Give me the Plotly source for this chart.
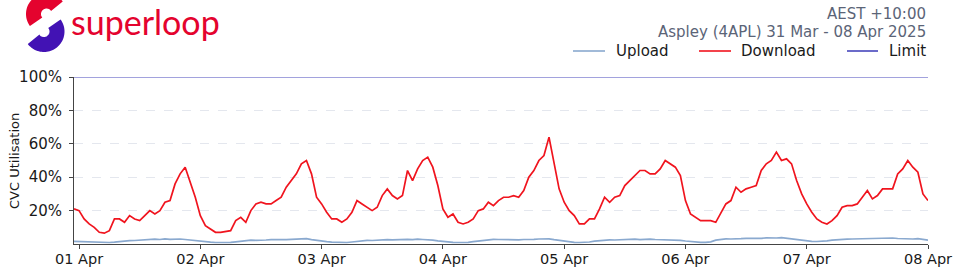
import numpy as np
import pandas as pd
import plotly.graph_objects as go

# ---------------- data (hourly, 31 Mar 23:00 -> 08 Apr 00:00) ----------------
start_time = "2025-03-31 23:00"
download_pct = [
    # 31 Mar 23h, 01 Apr 00h..23h
    21, 20, 15, 12, 10, 7, 6.5, 8, 15, 15, 13, 17, 15, 14, 17, 20, 18, 20, 25, 26, 36, 42, 46, 37, 28,
    # 02 Apr
    17, 11, 9, 7, 7, 7.5, 8, 14, 16, 13, 20, 24, 25, 24, 24, 26, 28, 34, 38, 42, 48, 50, 42, 28,
    # 03 Apr
    24, 19, 15, 15, 13, 15, 19, 26, 24, 22, 20, 22, 29, 33, 29, 27, 29, 44, 38, 45, 50, 52, 46, 35,
    # 04 Apr
    21, 16, 18, 13, 12, 13, 15, 20, 21, 25, 23, 26, 28, 28, 29, 28, 32, 40, 44, 50, 53, 64, 48, 33,
    # 05 Apr
    25, 20, 17, 12, 12, 15, 15, 21, 28, 25, 28, 29, 35, 38, 41, 44, 44, 42, 42, 45, 50, 48, 46, 41,
    # 06 Apr
    26, 18, 16, 14, 14, 14, 13, 19, 24, 26, 34, 31, 33, 34, 35, 44, 48, 50, 55, 50, 51, 48, 38, 30,
    # 07 Apr + 08 Apr 00h
    24, 19, 15, 13, 12, 14, 17, 22, 23, 23, 24, 28, 32, 27, 29, 33, 33, 33, 42, 45, 50, 46, 43, 30, 26,
]
upload_pct = [
    1.6, 1.5, 1.3, 1.1, 1.0, 0.9, 0.8, 0.9, 1.1, 1.5, 1.8, 2.0, 2.1, 2.3, 2.6, 2.4, 2.9, 2.7, 3.1, 2.8, 3.0, 3.0, 2.7, 2.3, 1.9,
    1.6, 1.3, 1.1, 0.9, 0.8, 0.8, 1.0, 1.3, 1.7, 2.0, 2.3, 2.2, 2.5, 2.4, 2.6, 2.5, 2.7, 2.6, 2.8, 2.9, 2.7, 3.2, 2.6, 2.1,
    1.7, 1.4, 1.1, 0.9, 0.8, 0.9, 1.2, 1.6, 1.9, 2.2, 2.1, 2.4, 2.3, 2.6, 2.5, 2.7, 2.6, 2.8, 2.6, 2.9, 2.7, 2.6, 2.3, 1.9,
    1.5, 1.2, 1.0, 0.9, 0.8, 1.0, 1.4, 1.8, 2.3, 2.6, 2.8, 2.7, 2.6, 2.4, 2.5, 2.5, 2.7, 2.6, 2.8, 3.0, 3.2, 3.1, 2.6, 2.1,
    1.6, 1.2, 1.0, 0.9, 0.9, 1.2, 1.7, 2.1, 2.3, 2.5, 2.4, 2.6, 2.8, 2.7, 2.9, 2.6, 2.8, 2.9, 2.7, 2.6, 2.8, 2.7, 2.5, 2.2,
    1.8, 1.4, 1.1, 1.0, 1.0, 1.3, 2.3, 2.8, 3.1, 3.0, 3.3, 3.2, 3.4, 3.3, 3.6, 3.4, 3.7, 3.5, 3.6, 3.8, 3.4, 3.0, 2.5, 2.1,
    1.8, 1.6, 1.5, 1.6, 1.9, 2.3, 2.6, 2.8, 2.9, 3.0, 3.1, 3.0, 3.2, 3.3, 3.4, 3.3, 3.5, 3.6, 3.3, 3.1, 3.2, 3.0, 3.2, 2.8, 2.3,
]
limit_pct = 100
tick_days = ["2025-04-01", "2025-04-02", "2025-04-03", "2025-04-04",
             "2025-04-05", "2025-04-06", "2025-04-07", "2025-04-08"]
y_ticks = [20, 40, 60, 80, 100]
y_tick_labels = ["20%", "40%", "60%", "80%", "100%"]
series_names = ["Upload", "Download", "Limit"]
series_colors = ["#8aa9cf", "#f0141e", "#4646bc"]
y_title = "CVC Utilisation"

times = pd.date_range(start_time, periods=len(download_pct), freq="h")

# ---------------- figure ----------------
W, H = 960, 274
ML, MR, MT, MB = 74, 32, 77, 30
PW, PH = W - ML - MR, H - MT - MB

def px(X):
    return (X - ML) / PW

def py(Y):
    return (H - MB - Y) / PH

fig = go.Figure()
fig.add_trace(go.Scatter(x=times, y=upload_pct, name=series_names[0], mode="lines",
                         line=dict(color=series_colors[0], width=1.7)))
fig.add_trace(go.Scatter(x=times, y=download_pct, name=series_names[1], mode="lines",
                         line=dict(color=series_colors[1], width=1.7)))
fig.add_trace(go.Scatter(x=[times[0], times[-1]], y=[limit_pct, limit_pct], name=series_names[2],
                         mode="lines", cliponaxis=False,
                         line=dict(color=series_colors[2], width=1.2)))

# logo: two thick arcs forming an S
def arc_path(cx, cy, r, a0, a1, n=48):
    pts = []
    for a in np.linspace(np.radians(a0), np.radians(a1), n):
        X = cx + r * np.cos(a)
        Y = cy - r * np.sin(a)
        pts.append(f"{px(X):.5f},{py(Y):.5f}")
    return "M " + " L ".join(pts)

shapes = [
    dict(type="path", xref="paper", yref="paper", layer="above",
         path=arc_path(46.5, 14, 13, 37, 217), line=dict(color="#e4032e", width=15)),
    dict(type="path", xref="paper", yref="paper", layer="above",
         path=arc_path(44, 31.5, 13, 217, 397), line=dict(color="#4212b4", width=15)),
]

annotations = [
    dict(text="superloop", xref="paper", yref="paper", x=px(69), y=py(21),
         xanchor="left", yanchor="middle", showarrow=False,
         font=dict(family="Lato", size=34, color="#e4032e")),
    dict(text="AEST +10:00", xref="paper", yref="paper", x=px(928), y=py(14),
         xanchor="right", yanchor="middle", showarrow=False,
         font=dict(family="DejaVu Sans", size=15, color="#5b6477")),
    dict(text="Aspley (4APL) 31 Mar - 08 Apr 2025", xref="paper", yref="paper",
         x=px(928), y=py(32), xanchor="right", yanchor="middle", showarrow=False,
         font=dict(family="DejaVu Sans", size=15, color="#5b6477")),
    dict(text=y_title, xref="paper", yref="paper", x=px(14), y=py(161),
         xanchor="center", yanchor="middle", showarrow=False, textangle=-90,
         font=dict(family="DejaVu Sans", size=13, color="#1a1a1a")),
]

# legend drawn as line samples + labels
legend_line_x = [(573, 605), (699, 731), (847, 878)]
legend_text_x = [614, 739, 887]
for (x0, x1), tx, name, col in zip(legend_line_x, legend_text_x, series_names, series_colors):
    shapes.append(dict(type="line", xref="paper", yref="paper",
                       x0=px(x0), x1=px(x1), y0=py(51), y1=py(51),
                       line=dict(color=col, width=1.6)))
    annotations.append(dict(text=name, xref="paper", yref="paper", x=px(tx), y=py(51),
                            xanchor="left", yanchor="middle", showarrow=False,
                            font=dict(family="DejaVu Sans", size=15, color="#1a1a1a")))

fig.update_layout(
    width=W, height=H,
    margin=dict(l=ML, r=MR, t=MT, b=MB, autoexpand=False),
    paper_bgcolor="white", plot_bgcolor="white",
    font=dict(family="DejaVu Sans", size=14, color="#1a1a1a"),
    showlegend=False,
    shapes=shapes,
    annotations=annotations,
    hovermode=False,
)
fig.update_xaxes(
    type="date", range=[times[0], times[-1]], automargin=False,
    tickvals=tick_days, tickformat="%d %b",
    showgrid=False, showline=True, linecolor="#444444", linewidth=1,
    ticks="outside", ticklen=4, tickcolor="#444444", ticklabelstandoff=-2,
    tickfont=dict(family="DejaVu Sans", size=14.5, color="#1a1a1a"),
    zeroline=False,
)
fig.update_yaxes(
    range=[0, 100], tickvals=y_ticks, ticktext=y_tick_labels, automargin=False,
    showgrid=True, gridcolor="#e4e7ee", griddash="dash", gridwidth=1,
    showline=True, linecolor="#444444", linewidth=1,
    ticks="outside", ticklen=4, tickcolor="#444444", ticklabelstandoff=4,
    tickfont=dict(family="DejaVu Sans", size=15, color="#1a1a1a"),
    zeroline=False,
)

fig.write_html("out.html")
